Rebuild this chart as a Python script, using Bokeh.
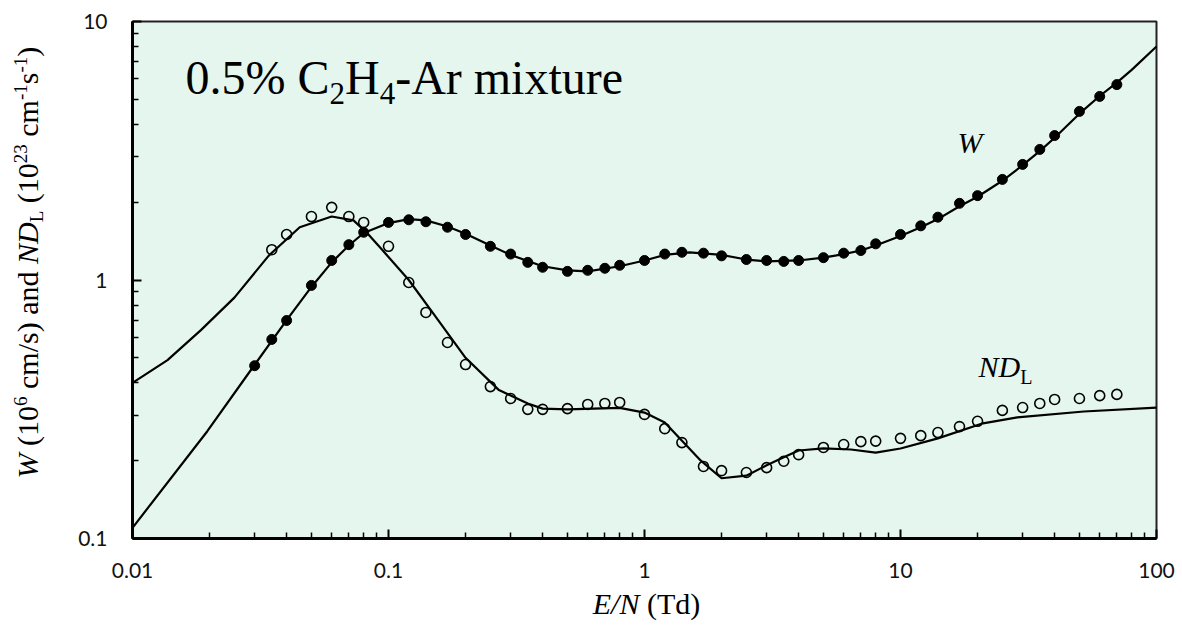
import math
from bokeh.plotting import figure
from bokeh.models import Label, FixedTicker, CustomJSTickFormatter, LogAxis, BoxAnnotation
from bokeh.embed import file_html
from bokeh.resources import INLINE

# ---------------- data ----------------
en_w = [0.03, 0.035, 0.04, 0.05, 0.06, 0.07, 0.08, 0.1, 0.12, 0.14, 0.17, 0.2, 0.25,
        0.3, 0.35, 0.4, 0.5, 0.6, 0.7, 0.8, 1.0, 1.2, 1.4, 1.7, 2.0, 2.5,
        3.0, 3.5, 4.0, 5.0, 6.0, 7.0, 8.0, 10, 12, 14, 17, 20, 25, 30, 35, 40, 50, 60, 70]
w_meas = [0.466, 0.589, 0.697, 0.953, 1.19, 1.37, 1.53, 1.67, 1.71, 1.68, 1.60, 1.50, 1.35,
          1.26, 1.17, 1.12, 1.08, 1.09, 1.11, 1.14, 1.19, 1.26, 1.28, 1.27, 1.24, 1.20,
          1.19, 1.18, 1.19, 1.22, 1.27, 1.30, 1.38, 1.50, 1.62, 1.75, 1.98, 2.12, 2.45,
          2.80, 3.20, 3.62, 4.49, 5.13, 5.70]

en_nd = [0.035, 0.04, 0.05, 0.06, 0.07, 0.08, 0.1, 0.12, 0.14, 0.17, 0.2, 0.25,
         0.3, 0.35, 0.4, 0.5, 0.6, 0.7, 0.8, 1.0, 1.2, 1.4, 1.7, 2.0, 2.5,
         3.0, 3.5, 4.0, 5.0, 6.0, 7.0, 8.0, 10, 12, 14, 17, 20, 25, 30, 35, 40, 50, 60, 70]
nd_meas = [1.31, 1.50, 1.76, 1.91, 1.76, 1.67, 1.35, 0.978, 0.749, 0.573, 0.471, 0.387,
           0.348, 0.316, 0.316, 0.318, 0.330, 0.333, 0.336, 0.302, 0.266, 0.235, 0.190,
           0.183, 0.180, 0.188, 0.199, 0.211, 0.225, 0.231, 0.237, 0.238, 0.244, 0.250,
           0.257, 0.271, 0.284, 0.313, 0.321, 0.333, 0.345, 0.348, 0.357, 0.361]

en_wcalc = [0.01, 0.0196, 0.03, 0.04, 0.05, 0.06, 0.07, 0.08, 0.1, 0.12, 0.14, 0.17, 0.2,
            0.25, 0.3, 0.4, 0.5, 0.6, 0.8, 1.0, 1.2, 1.5, 2.0, 2.5, 3.0, 4.0, 5.0, 6.0,
            7.0, 8.0, 10, 12, 14, 17, 20, 25, 30, 35, 40, 50, 60, 70, 80, 100]
w_calc = [0.11, 0.26, 0.47, 0.70, 0.94, 1.17, 1.36, 1.52, 1.66, 1.72, 1.70, 1.61, 1.51,
          1.36, 1.25, 1.13, 1.09, 1.08, 1.13, 1.19, 1.25, 1.28, 1.25, 1.20, 1.18, 1.19,
          1.22, 1.26, 1.30, 1.36, 1.48, 1.60, 1.72, 1.93, 2.10, 2.42, 2.78, 3.15, 3.55,
          4.40, 5.15, 5.80, 6.5, 8.0]

en_ndcalc = [0.01, 0.0137, 0.0185, 0.025, 0.034, 0.045, 0.06, 0.073, 0.083, 0.095, 0.12,
             0.15, 0.2, 0.27, 0.35, 0.4, 0.5, 0.8, 1.0, 1.2, 1.66, 2.0, 2.5, 3.0, 3.5,
             4.0, 5.0, 6.4, 8.0, 10, 14, 21, 28.6, 52, 100]
nd_calc = [0.40, 0.49, 0.64, 0.855, 1.24, 1.60, 1.76, 1.70, 1.51, 1.30, 1.0, 0.74, 0.50,
           0.375, 0.333, 0.318, 0.316, 0.32, 0.307, 0.281, 0.200, 0.171, 0.175, 0.192,
           0.206, 0.219, 0.223, 0.221, 0.215, 0.223, 0.244, 0.279, 0.294, 0.310, 0.321]

x_ticks = [0.01, 0.1, 1, 10, 100]
x_tick_labels = ["0.01", "0.1", "1", "10", "100"]
y_ticks = [0.1, 1, 10]
y_tick_labels = ["0.1", "1", "10"]

# ---------------- layout ----------------
W, H = 1182, 633
L, R, T, B = 132, 26, 21, 95          # position of the plot box inside the canvas
FW, FH = W - L - R, H - T - B
X0, X1 = 0.01, 100
Y0, Y1 = 0.1, 10
XDEC = math.log10(X1 / X0) / FW        # decades per pixel
YDEC = math.log10(Y1 / Y0) / FH

# the frame covers the whole canvas so that rich-text labels outside the box are visible
xr = (10 ** (math.log10(X0) - L * XDEC), 10 ** (math.log10(X1) + R * XDEC))
yr = (10 ** (math.log10(Y0) - B * YDEC), 10 ** (math.log10(Y1) + T * YDEC))

p = figure(width=W, height=H, x_axis_type="log", y_axis_type="log",
           x_axis_location=None, y_axis_location=None,
           x_range=xr, y_range=yr, output_backend="svg",
           toolbar_location=None, min_border=0)
p.background_fill_color = "white"
p.border_fill_color = "white"
p.outline_line_color = None
p.grid.visible = False

# plot box (green area with outline)
p.add_layout(BoxAnnotation(left=X0, right=X1, bottom=Y0, top=Y1, level="underlay",
                           fill_color="#e4f6ed", fill_alpha=1.0,
                           line_color="#222222", line_width=2, line_alpha=1.0))

minor_x = [m * 10 ** e for e in range(-2, 2) for m in range(2, 10)]
minor_y = [m * 10 ** e for e in range(-1, 1) for m in range(2, 10)]

fmt_code = """
for (let i = 0; i < vals.length; i++) {
  if (Math.abs(Math.log10(tick) - Math.log10(vals[i])) < 1e-6) return labs[i];
}
return '';
"""

xaxis = LogAxis(fixed_location=Y0, bounds=(X0, X1),
                ticker=FixedTicker(ticks=x_ticks, minor_ticks=minor_x),
                formatter=CustomJSTickFormatter(args=dict(vals=x_ticks, labs=x_tick_labels), code=fmt_code))
yaxis = LogAxis(fixed_location=X0, bounds=(Y0, Y1),
                ticker=FixedTicker(ticks=y_ticks, minor_ticks=minor_y),
                formatter=CustomJSTickFormatter(args=dict(vals=y_ticks, labs=y_tick_labels), code=fmt_code))
for ax in (xaxis, yaxis):
    ax.axis_line_width = 3
    ax.axis_line_color = "black"
    ax.major_tick_in = 9
    ax.major_tick_out = 0
    ax.minor_tick_in = 6
    ax.minor_tick_out = 0
    ax.major_tick_line_width = 2
    ax.minor_tick_line_width = 1.5
    ax.major_tick_line_color = "black"
    ax.minor_tick_line_color = "black"
    ax.major_label_text_font = "Lato"
    ax.major_label_text_font_size = "21px"
    ax.major_label_text_color = "#111111"
xaxis.major_label_standoff = 24
yaxis.major_label_standoff = 25
p.add_layout(xaxis, "below")
p.add_layout(yaxis, "left")

# ---------------- series ----------------
p.line(en_wcalc, w_calc, line_color="black", line_width=2.2)
p.line(en_ndcalc, nd_calc, line_color="black", line_width=2.2)
p.scatter(en_w, w_meas, size=10, marker="circle", fill_color="black", line_color="black")
p.scatter(en_nd, nd_meas, size=10, marker="circle", fill_color=None,
          line_color="black", line_width=1.6)

# ---------------- rich text helpers ----------------
SERIF = "Liberation Serif"
REG = {' ': 250, '(': 333, ')': 333, '.': 250, '%': 833, '-': 333, '/': 278,
       'A': 722, 'C': 667, 'H': 722, 'T': 611, 'L': 611, 'a': 444, 'c': 444, 'd': 500,
       'e': 444, 'i': 278, 'm': 778, 'n': 500, 'r': 333, 's': 389, 't': 278, 'u': 500,
       'x': 500}
for d in "0123456789":
    REG[d] = 500
ITA = dict(REG)
ITA.update({'E': 611, 'N': 667, 'D': 722, 'W': 833})
BASE_CORR = 0.36   # observed offset of the rendered baseline, in em


def tw(text, italic, size):
    tab = ITA if italic else REG
    return sum(tab.get(ch, 500) for ch in text) / 1000.0 * size


def dx(px):
    return 10 ** (math.log10(X0) + (px - L) * XDEC)


def dy(py):
    return 10 ** (math.log10(Y0) + (T + FH - py) * YDEC)


def place(segs, x0, y0, rotated=False, align_center=None):
    total = sum(tw(t, it, s) for t, it, s, sh in segs)
    if rotated:
        cy = y0 if align_center is None else align_center + total / 2
    else:
        cx = x0 if align_center is None else align_center - total / 2
    for t, it, s, sh in segs:
        lead = len(t) - len(t.lstrip(' '))
        core = t.strip(' ')
        off = lead * 0.25 * s
        corr = BASE_CORR * s
        kw = dict(text=core, text_font=SERIF, text_font_size=f"{s}px",
                  text_font_style="italic" if it else "normal",
                  text_align="left", text_baseline="alphabetic", text_color="black")
        if rotated:
            p.add_layout(Label(x=dx(x0 - sh - corr), y=dy(cy - off), angle=math.pi / 2, **kw))
            cy -= tw(t, it, s)
        else:
            p.add_layout(Label(x=dx(cx + off), y=dy(y0 - sh - corr), **kw))
            cx += tw(t, it, s)


# title inside plot
place([("0.5% C", False, 48, 0), ("2", False, 31, -10), ("H", False, 48, 0),
       ("4", False, 31, -10), ("-Ar mixture", False, 48, 0)], 185, 94)

# curve labels
place([("W", True, 30, 0)], 957, 153)
place([("ND", True, 30, 0), ("L", False, 20, -7)], 978, 377)

# x-axis title
place([("E/N", True, 30, 0), (" (Td)", False, 30, 0)], 0, 614, align_center=646)

# y-axis title (rotated), reading upward from the bottom
place([("W", True, 30, 0), (" (10", False, 30, 0), ("6", False, 19, 11),
       (" cm/s) and ", False, 30, 0), ("ND", True, 30, 0), ("L", False, 19, -5),
       (" (10", False, 30, 0), ("23", False, 19, 11), (" cm", False, 30, 0),
       ("-1", False, 19, 11), ("s", False, 30, 0), ("-1", False, 19, 11),
       (")", False, 30, 0)], 38, 478, rotated=True)

open("out.html", "w").write(file_html(p, INLINE))
